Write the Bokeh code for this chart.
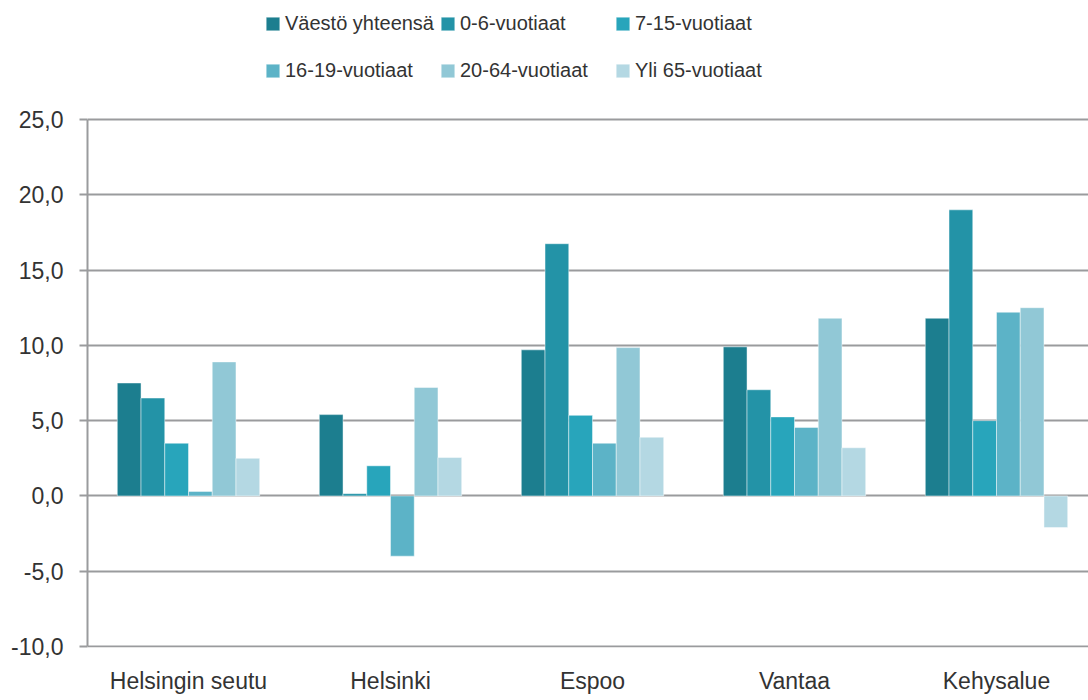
from bokeh.plotting import figure
from bokeh.models import (ColumnDataSource, Range1d, Legend, LegendItem,
                          CustomJSTickFormatter, FixedTicker)
from bokeh.transform import dodge
from bokeh.embed import file_html
from bokeh.resources import INLINE

categories = ["Helsingin seutu", "Helsinki", "Espoo", "Vantaa", "Kehysalue"]
vaesto = [7.5, 5.4, 9.7, 9.9, 11.8]
v0_6 = [6.5, 0.15, 16.75, 7.05, 19.0]
v7_15 = [3.5, 2.0, 5.35, 5.25, 5.0]
v16_19 = [0.3, -4.0, 3.5, 4.55, 12.2]
v20_64 = [8.9, 7.2, 9.85, 11.8, 12.5]
v65 = [2.5, 2.55, 3.9, 3.2, -2.1]

series_names = ["Väestö yhteensä", "0-6-vuotiaat", "7-15-vuotiaat",
                "16-19-vuotiaat", "20-64-vuotiaat", "Yli 65-vuotiaat"]
series_values = [vaesto, v0_6, v7_15, v16_19, v20_64, v65]
colors = ["#1c7e8f", "#2393a7", "#28a5bb", "#5cb3c7", "#91c8d6", "#b4d8e3"]
y_ticks = [-10, -5, 0, 5, 10, 15, 20, 25]

FONT = "Liberation Sans"
TXT = "#333333"
GRID = "#9a9b9d"

# layout (pixels)
W, H = 1088, 700
LEFT_PX = 87
CAT_PX = 202           # width of one category slot
PLOT_TOP_PX = 119      # where the 25,0 gridline sits
PLOT_BOT_PX = 647      # just below the -10,0 gridline
ymin, ymax = min(y_ticks), max(y_ticks)
ppu = (PLOT_BOT_PX - 1 - PLOT_TOP_PX) / (ymax - ymin)
y_top = ymax + PLOT_TOP_PX / ppu
y_bot = ymin - 1 / ppu
x_end = (W - LEFT_PX) / CAT_PX

centers = [i + 0.5 for i in range(len(categories))]
src = ColumnDataSource(dict(x=centers, **{f"s{i}": v for i, v in enumerate(series_values)}))

p = figure(width=W, height=H, x_range=Range1d(0, x_end),
           y_range=Range1d(y_bot, y_top), output_backend="svg", toolbar_location=None,
           min_border_left=LEFT_PX, min_border_right=0, min_border_top=0,
           min_border_bottom=H - PLOT_BOT_PX)
p.outline_line_color = None
p.background_fill_color = "white"

bw = 0.1175
renderers = []
for i, (name, col) in enumerate(zip(series_names, colors)):
    r = p.vbar(x=dodge("x", (i - 2.5) * bw), top=f"s{i}", bottom=0,
               width=bw, source=src, fill_color=col, line_color="white", line_alpha=0.45,
               line_width=1)
    renderers.append(r)

p.xgrid.grid_line_color = None
p.ygrid.grid_line_color = GRID
p.ygrid.grid_line_width = 2
p.ygrid.ticker = FixedTicker(ticks=y_ticks)

p.yaxis.ticker = FixedTicker(ticks=y_ticks)
p.yaxis.bounds = (ymin, ymax)
p.yaxis.formatter = CustomJSTickFormatter(code="return tick.toFixed(1).replace('.', ',');")
p.yaxis.axis_line_color = GRID
p.yaxis.axis_line_width = 2
p.yaxis.major_tick_line_color = GRID
p.yaxis.major_tick_line_width = 2
p.yaxis.major_tick_out = 8
p.yaxis.major_tick_in = 0
p.yaxis.minor_tick_line_color = None
p.yaxis.major_label_standoff = 16
p.yaxis.major_label_text_font = FONT
p.yaxis.major_label_text_font_size = "23px"
p.yaxis.major_label_text_color = TXT

p.xaxis.ticker = FixedTicker(ticks=centers)
p.xaxis.major_label_overrides = {c: n for c, n in zip(centers, categories)}
p.xaxis.axis_line_color = None
p.xaxis.major_tick_line_color = None
p.xaxis.minor_tick_line_color = None
p.xaxis.major_tick_out = 0
p.xaxis.major_tick_in = 0
p.xaxis.major_label_standoff = 20
p.xaxis.major_label_text_font = FONT
p.xaxis.major_label_text_font_size = "23px"
p.xaxis.major_label_text_color = TXT

# legend fills column by column: order items so rows read as in the original
order = [0, 3, 1, 4, 2, 5]
items = [LegendItem(label=series_names[k], renderers=[renderers[k]]) for k in order]
lg = Legend(items=items, location=(177, 555), ncols=3,
            glyph_width=17, glyph_height=17, label_standoff=4, label_height=43,
            label_width=150, spacing=4, padding=0, margin=0, border_line_color=None,
            background_fill_alpha=0, label_text_font=FONT,
            label_text_font_size="20px", label_text_color=TXT)
p.add_layout(lg, "center")

open("out.html", "w").write(file_html(p, INLINE))
